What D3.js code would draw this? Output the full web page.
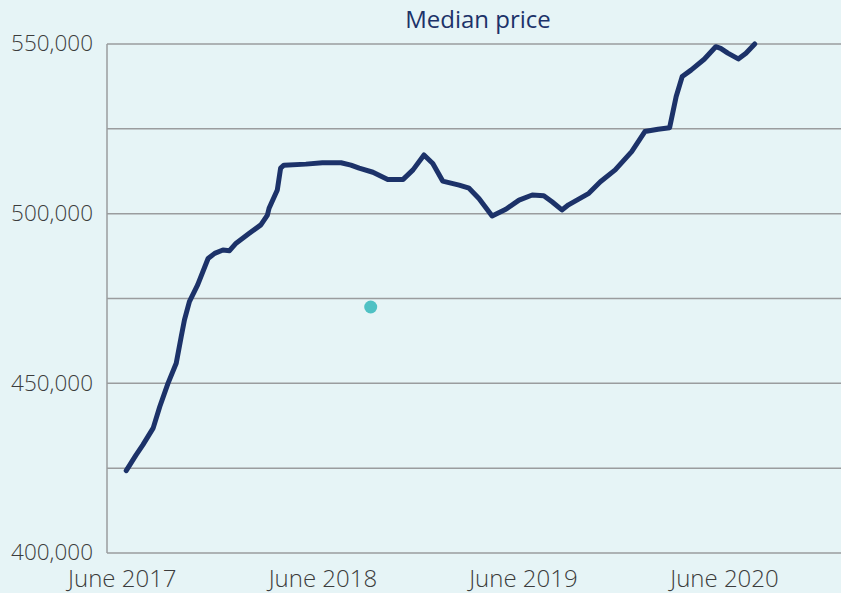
<!DOCTYPE html>
<html>
<head>
<meta charset="utf-8">
<script src="https://cdn.jsdelivr.net/npm/d3@7"></script>
<style>
  body { margin: 0; background: #e6f4f6; }
  svg { display: block; }
</style>
</head>
<body>
<svg width="841" height="593"></svg>
<script>
// median price
var dates = [
  '2017-06-09','2017-06-27','2017-07-09','2017-07-28','2017-08-09','2017-08-24',
  '2017-09-08','2017-09-17','2017-09-23','2017-10-02','2017-10-17','2017-11-05',
  '2017-11-17','2017-12-02','2017-12-14','2017-12-26','2018-01-19','2018-02-09',
  '2018-02-21','2018-02-24','2018-03-11','2018-03-17','2018-03-23','2018-05-02',
  '2018-06-01','2018-07-05','2018-07-23','2018-08-07','2018-09-01','2018-09-28',
  '2018-10-26','2018-11-13','2018-12-03','2018-12-19','2019-01-06','2019-02-05',
  '2019-02-23','2019-03-13','2019-04-06','2019-05-01','2019-05-25','2019-06-18',
  '2019-07-09','2019-07-24','2019-08-11','2019-08-23','2019-09-29','2019-10-20',
  '2019-11-16','2019-12-16','2020-01-09','2020-02-02','2020-02-23','2020-03-06',
  '2020-03-17','2020-04-02','2020-04-26','2020-05-17','2020-05-26','2020-06-08',
  '2020-06-27','2020-07-11','2020-07-27'
];
var prices = [
  424300, 428900, 431800, 436800, 443100, 450000,
  455900, 463700, 468700, 474100, 479000, 486800,
  488300, 489300, 489100, 491300, 494200, 496700,
  499600, 501600, 507000, 513400, 514300, 514600,
  515000, 515000, 514300, 513400, 512200, 510100,
  510100, 512900, 517300, 514800, 509600, 508400,
  507500, 504500, 499300, 501300, 504000, 505500,
  505300, 503500, 501100, 502600, 506000, 509400,
  512900, 518300, 524200, 524900, 525300, 534500,
  540400, 542300, 545500, 549200, 548700, 547300,
  545600, 547300, 550000
];

// single highlighted point
var dotDate = '2018-08-28';
var dotValue = 472500;

var yTicks = [400000, 425000, 450000, 475000, 500000, 525000, 550000];
var yLabelled = [400000, 450000, 500000, 550000];
var xTickDates = ['2017-06-01', '2018-06-01', '2019-06-01', '2020-06-01'];

var parse = d3.timeParse('%Y-%m-%d');
var data = dates.map(function(d, i) { return { date: parse(d), value: prices[i] }; });

var svg = d3.select('svg');
var margin = { left: 107, top: 44, right: 0, bottom: 40 };
var width = 841 - margin.left - margin.right;
var height = 593 - margin.top - margin.bottom;

var x = d3.scaleTime()
  .domain([parse('2017-05-05'), parse('2020-12-31')])
  .range([margin.left, margin.left + width]);

var y = d3.scaleLinear()
  .domain([400000, 550000])
  .range([margin.top + height, margin.top]);

// grid
svg.append('g')
  .selectAll('line')
  .data(yTicks)
  .enter()
  .append('line')
  .attr('x1', margin.left)
  .attr('x2', margin.left + width)
  .attr('y1', function(d) { return y(d); })
  .attr('y2', function(d) { return y(d); })
  .attr('stroke', '#9a9c9e')
  .attr('stroke-width', 1.5);

svg.append('line')
  .attr('x1', margin.left).attr('x2', margin.left)
  .attr('y1', margin.top).attr('y2', margin.top + height)
  .attr('stroke', '#9a9c9e')
  .attr('stroke-width', 1.5);

var fmt = d3.format(',');

// y axis labels
var yAxis = d3.axisLeft(y)
  .tickValues(yLabelled)
  .tickFormat(fmt)
  .tickSize(0)
  .tickPadding(14);

svg.append('g')
  .attr('transform', 'translate(' + margin.left + ',0)')
  .call(yAxis)
  .call(function(g) { g.select('.domain').remove(); })
  .selectAll('text')
  .attr('dy', '0.3em')
  .attr('font-family', 'Open Sans')
  .attr('font-size', 22.5)
  .attr('font-weight', 300)
  .attr('fill', '#3c3c3c');

// x axis labels
var xAxis = d3.axisBottom(x)
  .tickValues(xTickDates.map(parse))
  .tickFormat(d3.timeFormat('June %Y'))
  .tickSize(0)
  .tickPadding(17);

svg.append('g')
  .attr('transform', 'translate(0,' + (margin.top + height) + ')')
  .call(xAxis)
  .call(function(g) { g.select('.domain').remove(); })
  .selectAll('text')
  .attr('font-family', 'Open Sans')
  .attr('font-size', 24)
  .attr('font-weight', 300)
  .attr('fill', '#3c3c3c');

// line
var line = d3.line()
  .x(function(d) { return x(d.date); })
  .y(function(d) { return y(d.value); })
  .curve(d3.curveLinear);

svg.append('path')
  .datum(data)
  .attr('d', line)
  .attr('fill', 'none')
  .attr('stroke', '#1c3269')
  .attr('stroke-width', 5)
  .attr('stroke-linejoin', 'round')
  .attr('stroke-linecap', 'round');

svg.append('circle')
  .attr('cx', x(parse(dotDate)))
  .attr('cy', y(dotValue))
  .attr('r', 6.5)
  .attr('fill', '#4fc1c4');

// title
svg.append('text')
  .attr('x', 478)
  .attr('y', 28)
  .attr('text-anchor', 'middle')
  .attr('font-family', 'Open Sans')
  .attr('font-size', 24)
  .attr('fill', '#1c3269')
  .text('Median price');
</script>
</body>
</html>
